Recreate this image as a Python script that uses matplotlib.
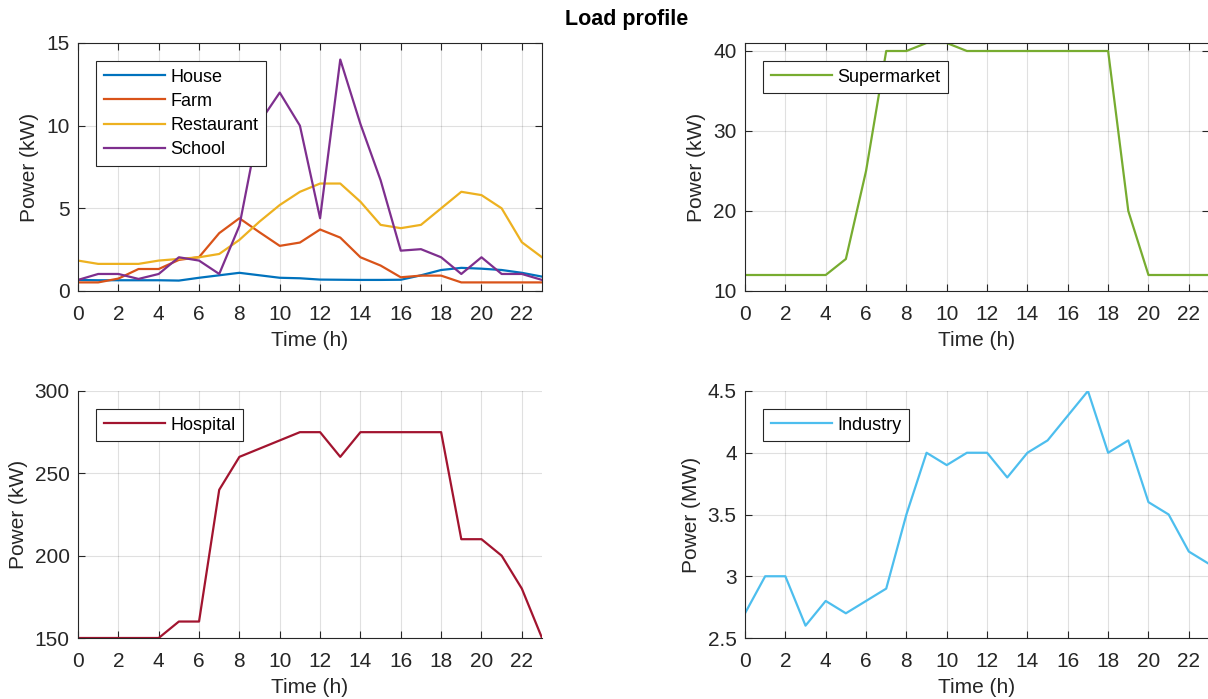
import numpy as np
import matplotlib
matplotlib.use("Agg")
import matplotlib.pyplot as plt
from matplotlib.ticker import FormatStrFormatter

plt.rcParams['font.family'] = ['Liberation Sans', 'DejaVu Sans']

hours = list(range(24))

# kW
house = [0.67, 0.65, 0.65, 0.65, 0.65, 0.63, 0.8, 0.95, 1.1, 0.95, 0.8, 0.77,
         0.69, 0.68, 0.67, 0.67, 0.68, 0.95, 1.27, 1.4, 1.35, 1.27, 1.1, 0.87]
farm = [0.52, 0.52, 0.75, 1.33, 1.33, 1.88, 2.05, 3.5, 4.4, 3.55, 2.73, 2.93,
        3.72, 3.23, 2.04, 1.54, 0.83, 0.93, 0.93, 0.52, 0.52, 0.52, 0.52, 0.52]
restaurant = [1.84, 1.64, 1.64, 1.64, 1.84, 1.94, 2.04, 2.24, 3.09, 4.2, 5.2, 6.0,
              6.5, 6.5, 5.4, 4.0, 3.8, 4.0, 5.0, 6.0, 5.8, 5.0, 2.95, 2.04]
school = [0.67, 1.03, 1.03, 0.73, 1.03, 2.04, 1.84, 1.03, 3.94, 10.2, 12.0, 10.0,
          4.4, 14.0, 10.1, 6.7, 2.44, 2.53, 2.04, 1.03, 2.04, 1.03, 1.03, 0.67]
supermarket = [12, 12, 12, 12, 12, 14, 25, 40, 40, 41, 41, 40,
               40, 40, 40, 40, 40, 40, 40, 20, 12, 12, 12, 12]
hospital = [150, 150, 150, 150, 150, 160, 160, 240, 260, 265, 270, 275,
            275, 260, 275, 275, 275, 275, 275, 210, 210, 200, 180, 150]
# MW
industry = [2.7, 3.0, 3.0, 2.6, 2.8, 2.7, 2.8, 2.9, 3.5, 4.0, 3.9, 4.0,
            4.0, 3.8, 4.0, 4.1, 4.3, 4.5, 4.0, 4.1, 3.6, 3.5, 3.2, 3.1]

c_house = '#0072BD'
c_farm = '#D95319'
c_rest = '#EDB120'
c_school = '#7E2F8E'
c_super = '#77AC30'
c_hosp = '#A2142F'
c_ind = '#4DBEEE'
dark = '#262626'

W, H = 1208, 699
fig = plt.figure(figsize=(W / 100, H / 100), dpi=100)


def make_ax(x0, y0, x1, y1):
    return fig.add_axes([x0 / W, 1 - y1 / H, (x1 - x0) / W, (y1 - y0) / H])


def style(ax, box, ylabel, yticks, ylim):
    ax.set_xlim(0, 23)
    ax.set_ylim(*ylim)
    ax.set_xticks(range(0, 23, 2))
    ax.set_yticks(yticks)
    ax.yaxis.set_major_formatter(FormatStrFormatter('%g'))
    ax.grid(True, color='#000000', alpha=0.12, linewidth=0.8)
    ax.set_axisbelow(True)
    for s in ax.spines.values():
        s.set_color(dark)
        s.set_linewidth(0.8)
    ax.spines['top'].set_visible(box)
    ax.spines['right'].set_visible(box)
    ax.tick_params(direction='in', length=5, width=0.8, colors=dark,
                   labelsize=15, top=box, right=box, pad=6)
    ax.tick_params(axis='x', pad=10)
    ax.set_xlabel('Time (h)', fontsize=15, color=dark, labelpad=5)
    ax.set_ylabel(ylabel, fontsize=15, color=dark, labelpad=5)


def legend(ax, axw, axh):
    leg = ax.legend(loc='upper left', bbox_to_anchor=(18 / axw, 1 - 18 / axh),
                    borderaxespad=0, fontsize=13, handlelength=3.4,
                    fancybox=False, framealpha=1, edgecolor=dark,
                    borderpad=0.42, labelspacing=0.4, handletextpad=0.3)
    leg.get_frame().set_linewidth(0.8)


lw = 1.6

ax1 = make_ax(78, 43, 542, 291)
ax1.plot(hours, house, color=c_house, lw=lw, label='House')
ax1.plot(hours, farm, color=c_farm, lw=lw, label='Farm')
ax1.plot(hours, restaurant, color=c_rest, lw=lw, label='Restaurant')
ax1.plot(hours, school, color=c_school, lw=lw, label='School')
style(ax1, True, 'Power (kW)', [0, 5, 10, 15], (0, 15))
legend(ax1, 464, 248)

ax2 = make_ax(745, 43, 1209, 291)
ax2.plot(hours, supermarket, color=c_super, lw=lw, label='Supermarket')
style(ax2, True, 'Power (kW)', [10, 20, 30, 40], (10, 41))
legend(ax2, 464, 248)

ax3 = make_ax(78, 391, 542, 638)
ax3.plot(hours, hospital, color=c_hosp, lw=lw, label='Hospital')
style(ax3, False, 'Power (kW)', [150, 200, 250, 300], (150, 300))
legend(ax3, 464, 247)

ax4 = make_ax(745, 391, 1209, 638)
ax4.plot(hours, industry, color=c_ind, lw=lw, label='Industry')
style(ax4, False, 'Power (MW)', [2.5, 3, 3.5, 4, 4.5], (2.5, 4.5))
legend(ax4, 464, 247)

fig.text(627 / W, 1 - 19 / H, 'Load profile', ha='center', va='center',
         fontsize=15.5, fontweight='bold', color='black')

fig.savefig('out.png', dpi=100)
